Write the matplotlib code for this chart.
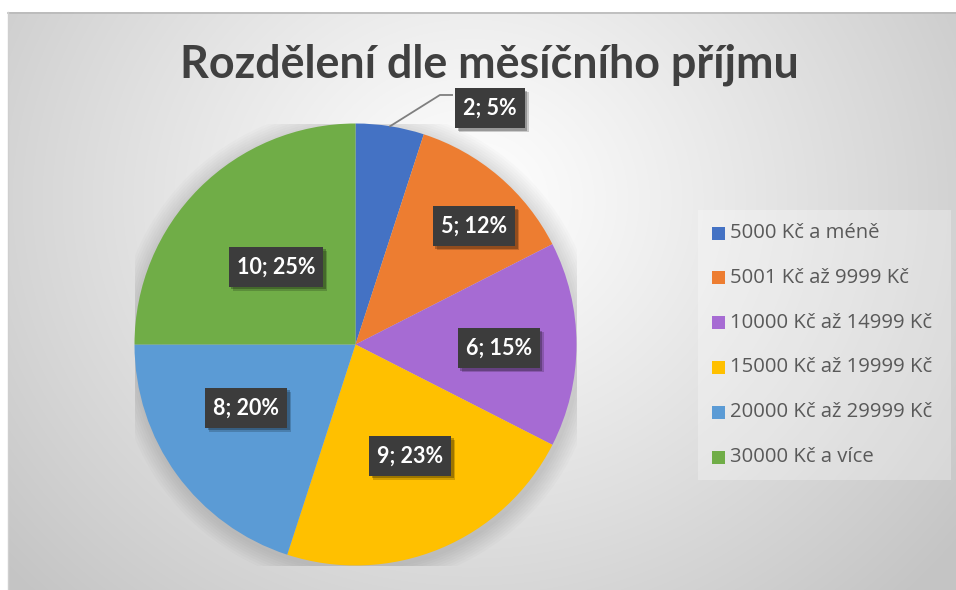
import numpy as np
import matplotlib
matplotlib.use("Agg")
import matplotlib.pyplot as plt
from matplotlib.patches import Rectangle, Circle
from matplotlib.transforms import IdentityTransform

categories = ["5000 Kč a méně", "5001 Kč až 9999 Kč", "10000 Kč až 14999 Kč",
              "15000 Kč až 19999 Kč", "20000 Kč až 29999 Kč", "30000 Kč a více"]
counts = [2, 5, 6, 9, 8, 10]
percent_labels = ["5%", "12%", "15%", "23%", "20%", "25%"]
colors = ["#4472C4", "#ED7D31", "#A66BD3", "#FFC000", "#5B9BD5", "#70AD47"]
title = "Rozdělení dle měsíčního příjmu"

# layout: data-label centres in pie-radius units (Excel "best fit" placement)
label_pos = [(0.609, 1.070), (0.536, 0.536), (0.649, -0.016),
             (0.247, -0.504), (-0.495, -0.287), (-0.360, 0.351)]

W, H = 956, 590
fig = plt.figure(figsize=(W / 100, H / 100), dpi=100)

# background radial gradient
bg = fig.add_axes([0, 0, 1, 1])
yy, xx = np.mgrid[0:H, 0:W]
d = np.sqrt((xx - 470) ** 2 + ((yy - 200) / 0.9) ** 2)
v = 1.0 - 0.23 * np.clip(d / 620, 0, 1) ** 1.1
img = np.dstack([v, v, v])
img[:12, :, :] = 1.0
img[:, :8, :] = 1.0
bg.imshow(img, extent=[0, W, H, 0], aspect="auto", interpolation="bilinear")
bg.plot([8, W], [12.5, 12.5], color="#b8b8b8", lw=1.2)
bg.plot([8.5, 8.5], [12, H], color="#cfcfcf", lw=1.0)
bg.set_xlim(0, W)
bg.set_ylim(H, 0)
bg.axis("off")

fig.text(489 / W, 1 - 78 / H, title, ha="center", va="baseline",
         fontsize=32.3, fontweight="bold", color="#404040", family="Lato")

# pie
cx, cy, r = 355.5, 344.5, 221
ax = fig.add_axes([(cx - r) / W, (H - cy - r) / H, 2 * r / W, 2 * r / H])
for k in range(8):
    ax.add_patch(Circle((0.008, -0.012), 1.0 + 0.011 * (k + 1), color="black",
                        alpha=0.016, lw=0, zorder=0))
wedges, _ = ax.pie(counts, colors=colors, startangle=90, counterclock=False,
                   radius=1.0, wedgeprops=dict(linewidth=0), frame=False)
ax.set_xlim(-1, 1)
ax.set_ylim(-1, 1)
ax.axis("off")

# leader line for the small slice
w0 = wedges[0]
mid0 = np.deg2rad((w0.theta1 + w0.theta2) / 2)
ax.plot([np.cos(mid0), 0.382, 0.437], [np.sin(mid0), 1.129, 1.129],
        color="#7f7f7f", lw=1.3, clip_on=False, zorder=5)

texts = []
for i in range(len(counts)):
    tx, ty = label_pos[i]
    t = ax.text(tx, ty, f"{counts[i]}; {percent_labels[i]}", ha="center",
                va="center", fontsize=15.5, fontweight="bold", color="white",
                family="Lato", zorder=8, clip_on=False)
    texts.append(t)

fig.canvas.draw()
renderer = fig.canvas.get_renderer()
for t in texts:
    bb = t.get_window_extent(renderer)
    xc, yc = ax.transData.transform(t.get_position())
    bw, bh = bb.width + 16, 40
    for off, al in [((4, -4), 0.18), ((2.5, -2.5), 0.25)]:
        ax.add_patch(Rectangle((xc - bw / 2 + off[0], yc - bh / 2 + off[1]),
                               bw, bh, transform=IdentityTransform(),
                               facecolor="black", alpha=al, lw=0, zorder=6,
                               clip_on=False))
    ax.add_patch(Rectangle((xc - bw / 2, yc - bh / 2), bw, bh,
                           transform=IdentityTransform(), facecolor="#3c3c3c",
                           lw=0, zorder=7, clip_on=False))

# legend (manual, Excel-like)
lx0, ly0, lx1, ly1 = 698, 210, 951, 480
bg.add_patch(Rectangle((lx0, ly0), lx1 - lx0, ly1 - ly0, facecolor="white",
                       alpha=0.28, lw=0))
row_y0, row_dy = 233, 44.8
for i, (lab, c) in enumerate(zip(categories, colors)):
    yc = row_y0 + i * row_dy
    bg.add_patch(Rectangle((712, yc - 6.5), 13, 13, facecolor=c, lw=0))
    bg.text(730, yc, lab, ha="left", va="center", fontsize=14.6,
            family="Open Sans", color="#595959")

fig.savefig("out.png", dpi=100)
